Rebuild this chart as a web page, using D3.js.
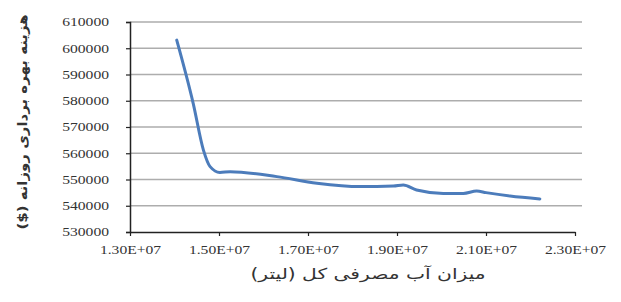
<!DOCTYPE html>
<html>
<head>
<meta charset="utf-8">
<script src="https://cdn.jsdelivr.net/npm/d3@7"></script>
<style>
  body { margin: 0; background: #fff; }
  .tick text { font-family: "Liberation Serif", serif; font-size: 12px; fill: #333; }
</style>
</head>
<body>
<div id="chart"></div>
<script>
const waterUse = [1.405e7, 1.442e7, 1.465e7, 1.48e7, 1.502e7, 1.525e7, 1.63e7, 1.72e7, 1.817e7, 1.892e7, 1.914e7, 1.944e7, 2.004e7, 2.049e7, 2.079e7, 2.1e7, 2.154e7, 2.221e7];
const dailyCost = [603100, 579000, 561200, 554900, 552700, 553000, 551100, 548600, 547300, 547500, 547900, 546000, 544700, 544700, 545600, 545000, 543700, 542600];
const xTicks = [1.3e7, 1.5e7, 1.7e7, 1.9e7, 2.1e7, 2.3e7];
const yTicks = [530000, 540000, 550000, 560000, 570000, 580000, 590000, 600000, 610000];
const yTitle = "هزینه بهره برداری روزانه ($)";
const xTitle = "میزان آب مصرفی کل (لیتر)";

const width = 621, height = 302;
const margin = { top: 22, right: 46, bottom: 70, left: 130 };
const h = height - margin.top - margin.bottom;

const svg = d3.select('#chart').append('svg')
  .attr('width', width).attr('height', height);
const g = svg.append('g').attr('transform', `translate(${margin.left},${margin.top})`);

const x = d3.scaleLinear().domain([1.3e7, 2.3e7]).range([0, 445]);
const y = d3.scaleLinear().domain([530000, 610000]).range([h, 0]);

// gridlines
g.append('g').selectAll('line').data(yTicks.slice(1)).join('line')
  .attr('x1', 0).attr('x2', 452)
  .attr('y1', d => y(d)).attr('y2', d => y(d))
  .attr('stroke', '#adadad').attr('stroke-width', 1.5);

function stretch(sel, k) {
  sel.each(function () {
    const len = this.getComputedTextLength();
    d3.select(this).attr('textLength', len * k).attr('lengthAdjust', 'spacingAndGlyphs');
  });
}

const yAxis = g.append('g')
  .call(d3.axisLeft(y).tickValues(yTicks).tickFormat(d3.format('d')).tickSize(4).tickPadding(17));
yAxis.select('.domain').attr('stroke', '#222').attr('stroke-width', 1.5);
yAxis.selectAll('.tick line').attr('stroke', '#222').attr('stroke-width', 1.2);
stretch(yAxis.selectAll('text'), 1.3);

const xAxis = g.append('g').attr('transform', `translate(0,${h})`)
  .call(d3.axisBottom(x).tickValues(xTicks)
    .tickFormat(d => (d / 1e7).toFixed(2) + 'E+07').tickSize(4).tickSizeOuter(0).tickPadding(9));
xAxis.select('.domain').attr('stroke', '#222').attr('stroke-width', 1.5);
xAxis.selectAll('.tick line').attr('stroke', '#222').attr('stroke-width', 1.2);
stretch(xAxis.selectAll('text'), 1.3);

const line = d3.line().x((d, i) => x(waterUse[i])).y(d => y(d)).curve(d3.curveMonotoneX);
g.append('path').datum(dailyCost)
  .attr('d', line)
  .attr('fill', 'none')
  .attr('stroke', '#4c7cbb')
  .attr('stroke-width', 3)
  .attr('stroke-linejoin', 'round')
  .attr('stroke-linecap', 'round');

// axis titles, widened with a scale transform rather than letter spacing
svg.append('text')
  .attr('transform', `translate(27,122) rotate(-90) scale(1.15,1)`)
  .attr('text-anchor', 'middle')
  .attr('font-family', 'DejaVu Sans, sans-serif')
  .attr('font-size', 13).attr('font-weight', 'bold').attr('fill', '#333')
  .attr('direction', 'rtl')
  .text(yTitle);

svg.append('text')
  .attr('transform', `translate(368,279) scale(1.35,1)`)
  .attr('text-anchor', 'middle')
  .attr('font-family', 'DejaVu Sans, sans-serif')
  .attr('font-size', 15).attr('fill', '#333')
  .attr('direction', 'rtl')
  .text(xTitle);
</script>
</body>
</html>
